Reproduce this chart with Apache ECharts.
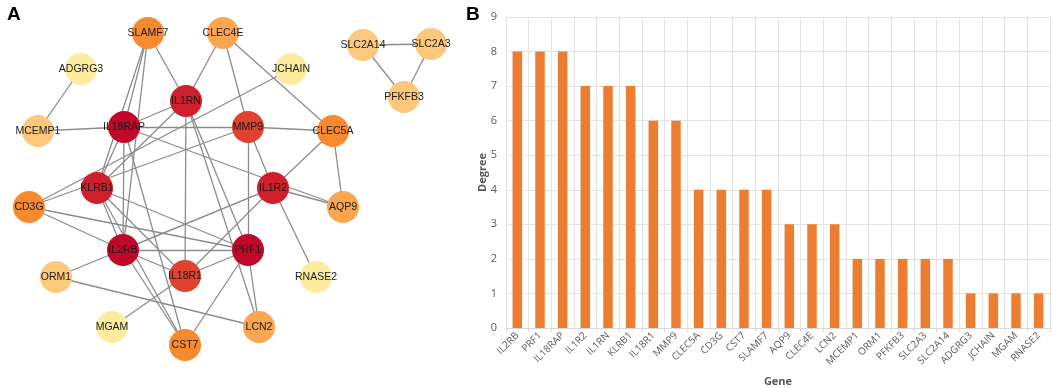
<!DOCTYPE html>
<html>
<head>
<meta charset="utf-8">
<script src="https://cdn.jsdelivr.net/npm/echarts@6/dist/echarts.min.js"></script>
<style>
    html,body{margin:0;padding:0;background:#fff;}
    #main{width:1052px;height:388px;}
</style>
</head>
<body>
<div id="main"></div>
<script>
    // panel B: degree per gene
    var genes = ['IL2RB','PRF1','IL18RAP','IL1R2','IL1RN','KLRB1','IL18R1','MMP9','CLEC5A','CD3G','CST7','SLAMF7',
        'AQP9','CLEC4E','LCN2','MCEMP1','ORM1','PFKFB3','SLC2A3','SLC2A14','ADGRG3','JCHAIN','MGAM','RNASE2'];
    var degrees = [8,8,8,7,7,7,6,6,4,4,4,4,3,3,3,2,2,2,2,2,1,1,1,1];
    var degreeTicks = [0,1,2,3,4,5,6,7,8,9];

    // panel A: network layout (node positions)
    var nodeNames = ['SLAMF7','CLEC4E','ADGRG3','JCHAIN','IL1RN','IL18RAP','MMP9','MCEMP1','CLEC5A','KLRB1','IL1R2','CD3G',
        'AQP9','IL2RB','PRF1','IL18R1','ORM1','RNASE2','MGAM','CST7','LCN2','SLC2A14','SLC2A3','PFKFB3'];
    var nodeX = [148,223,81,291,186,124,248,38,333,97,273,29,343,123,248,185,56,316,112,185,259,363,431,404];
    var nodeY = [33,33,69,69,101,127,127,131,131,188,188,207,207,250,250,276,277,277,327,345,327,45,44,97];
    var edges = [
        ['ADGRG3','MCEMP1'],['MCEMP1','IL18RAP'],
        ['SLC2A14','SLC2A3'],['SLC2A3','PFKFB3'],['SLC2A14','PFKFB3'],
        ['SLAMF7','IL18RAP'],['SLAMF7','IL2RB'],['SLAMF7','KLRB1'],['SLAMF7','IL1RN'],
        ['CLEC4E','IL1RN'],['CLEC4E','MMP9'],['CLEC4E','CLEC5A'],
        ['CLEC5A','MMP9'],['CLEC5A','IL1R2'],['CLEC5A','AQP9'],
        ['AQP9','IL1R2'],['AQP9','IL18RAP'],['IL1R2','RNASE2'],
        ['JCHAIN','CD3G'],['CD3G','MMP9'],['CD3G','IL2RB'],['CD3G','PRF1'],
        ['MMP9','IL18RAP'],['MMP9','IL1R2'],['MMP9','PRF1'],
        ['LCN2','ORM1'],['LCN2','IL1RN'],['LCN2','PRF1'],['ORM1','IL1R2'],
        ['MGAM','IL18R1'],
        ['IL18RAP','IL1RN'],['IL18RAP','KLRB1'],['IL18RAP','IL2RB'],['IL18RAP','CST7'],
        ['CST7','IL2RB'],['CST7','KLRB1'],['CST7','PRF1'],
        ['IL18R1','KLRB1'],['IL18R1','IL2RB'],['IL18R1','PRF1'],['IL18R1','IL1RN'],['IL18R1','IL1R2'],
        ['IL1R2','IL2RB'],['KLRB1','IL2RB'],['KLRB1','PRF1'],['KLRB1','IL1RN'],
        ['IL2RB','PRF1'],['PRF1','IL1RN']
    ];

    var degreeColor = {8:'#c0092a',7:'#cf1f2c',6:'#df432f',4:'#f7892f',3:'#fba752',2:'#fdc87c',1:'#feec9e'};

    var nodes = nodeNames.map(function (name, i) {
        var d = degrees[genes.indexOf(name)];
        return {name: name, value: [nodeX[i], nodeY[i]], itemStyle: {color: degreeColor[d]}};
    });
    var links = edges.map(function (e) {
        return {source: e[0], target: e[1]};
    });

    var chart = echarts.init(document.getElementById('main'));
    chart.setOption({
        animation: false,
        textStyle: {fontFamily: 'Liberation Sans, Arial, sans-serif'},
        title: [
            {text: 'A', left: 2, top: 0, textStyle: {fontSize: 19, fontWeight: 'bold', color: '#000', fontFamily: 'Liberation Sans, Arial'}},
            {text: 'B', left: 461, top: 0, textStyle: {fontSize: 19, fontWeight: 'bold', color: '#000', fontFamily: 'Liberation Sans, Arial'}}
        ],
        grid: [
            {left: 0, top: 0, width: 460, height: 388, outerBoundsMode: 'none'},
            {left: 506, top: 17, right: 2, bottom: 60, outerBoundsMode: 'none'}
        ],
        xAxis: [
            {gridIndex: 0, type: 'value', min: 0, max: 460, show: false},
            {
                gridIndex: 1, type: 'category', data: genes,
                name: 'Gene', nameLocation: 'middle', nameGap: 48,
                nameTextStyle: {fontSize: 11, fontWeight: 'bold', color: '#595959', fontFamily: 'Open Sans'},
                axisLine: {lineStyle: {color: '#d9d9d9'}},
                axisTick: {show: true, length: 4, lineStyle: {color: '#d9d9d9'}},
                axisLabel: {interval: 0, rotate: 45, fontSize: 10, color: '#595959', fontFamily: 'Open Sans', margin: 6},
                splitLine: {show: true, lineStyle: {color: '#e3e3e3'}}
            }
        ],
        yAxis: [
            {gridIndex: 0, type: 'value', min: 0, max: 388, inverse: true, show: false},
            {
                gridIndex: 1, type: 'value', min: degreeTicks[0], max: degreeTicks[degreeTicks.length - 1], interval: 1,
                name: 'Degree', nameLocation: 'middle', nameGap: 18, nameMoveOverlap: false,
                nameTextStyle: {fontSize: 11, fontWeight: 'bold', color: '#595959', fontFamily: 'Open Sans'},
                axisLine: {show: false},
                axisTick: {show: false},
                axisLabel: {fontSize: 11, color: '#595959', fontFamily: 'Open Sans', margin: 9},
                splitLine: {lineStyle: {color: '#e3e3e3'}}
            }
        ],
        series: [
            {
                type: 'graph',
                coordinateSystem: 'cartesian2d',
                xAxisIndex: 0,
                yAxisIndex: 0,
                symbol: 'circle',
                symbolSize: 32,
                data: nodes,
                links: links,
                lineStyle: {color: '#8c8c8c', width: 1.3, opacity: 1},
                label: {show: true, position: 'inside', fontSize: 10.5, color: '#1a1a1a', fontFamily: 'Liberation Sans, Arial'},
                emphasis: {disabled: true}
            },
            {
                type: 'bar',
                xAxisIndex: 1,
                yAxisIndex: 1,
                data: degrees,
                barWidth: 9.5,
                itemStyle: {color: '#ed7d31'}
            }
        ]
    });
</script>
</body>
</html>
